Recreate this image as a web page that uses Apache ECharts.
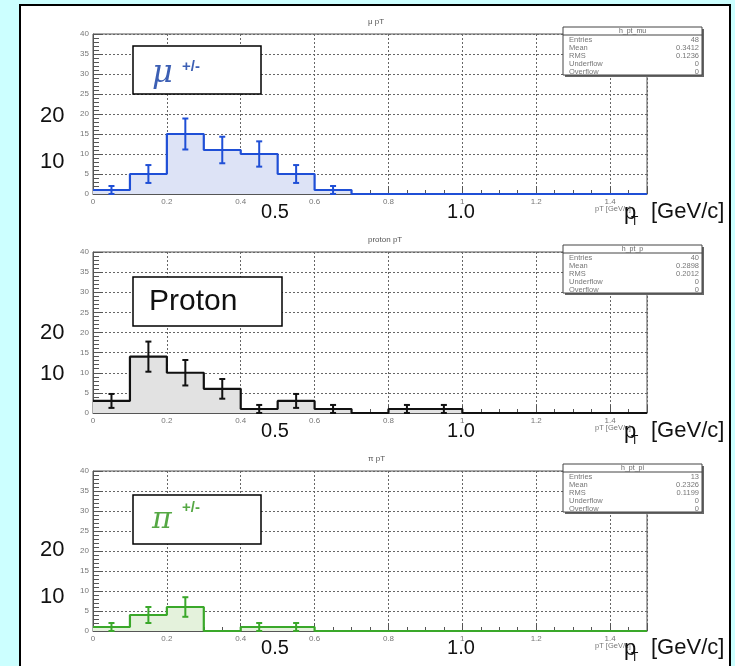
<!DOCTYPE html>
<html>
<head>
<meta charset="utf-8">
<script src="https://cdn.jsdelivr.net/npm/echarts@6/dist/echarts.min.js"></script>
<style>
  html, body { margin: 0; padding: 0; background: #ccffff; }
  #wrap { position: relative; width: 735px; height: 666px; overflow: hidden; background: #ccffff; }
  #panel { position: absolute; left: 19px; top: 4px; width: 708px; height: 700px; background: #fff; border: 2px solid #000; }
  #chart { position: absolute; left: 0; top: 0; width: 735px; height: 666px; }
</style>
</head>
<body>
<div id="wrap"><div id="panel"></div><div id="chart"></div></div>
<script>
// pT bins: 15 bins of 0.1 GeV/c from 0 to 1.5
const binCenters = [0.05, 0.15, 0.25, 0.35, 0.45, 0.55, 0.65, 0.75, 0.85, 0.95, 1.05, 1.15, 1.25, 1.35, 1.45];
const binWidth = 0.1;

// entries per bin
const muCounts     = [1, 5, 15, 11, 10, 5, 1, 0, 0, 0, 0, 0, 0, 0, 0];
const protonCounts = [3, 14, 10, 6, 1, 3, 1, 0, 1, 1, 0, 0, 0, 0, 0];
const pionCounts   = [1, 4, 6, 0, 1, 1, 0, 0, 0, 0, 0, 0, 0, 0, 0];

// statistics boxes
const statNames    = ['Entries', 'Mean', 'RMS', 'Underflow', 'Overflow'];
const muStats      = ['48', '0.3412', '0.1236', '0', '0'];
const protonStats  = ['40', '0.2898', '0.2012', '0', '0'];
const pionStats    = ['13', '0.2326', '0.1199', '0', '0'];
const histNames    = ['h_pt_mu', 'h_pt_p', 'h_pt_pi'];
const histTitles   = ['μ pT', 'proton pT', 'π pT'];

// axis ranges
const xMin = 0, xMax = 1.5, xStep = 0.2;
const yMin = 0, yMax = 40, yStep = 5;

// layout / style
const plotLeft = 93, plotWidth = 554;
const plotTops = [34, 252, 471];
const plotHeights = [160, 161, 160];
const lineColors = ['#1f4fd6', '#111111', '#3aa82a'];
const fillColors = ['#dde3f6', '#e2e2e2', '#e4f2dc'];
const countsList = [muCounts, protonCounts, pionCounts];
const statsList = [muStats, protonStats, pionStats];

const sansFont = '"Liberation Sans", Arial, Helvetica, sans-serif';

function stepData(counts) {
  const pts = binCenters.map((c, i) => [c - binWidth / 2, counts[i]]);
  pts.push([binCenters[binCenters.length - 1] + binWidth / 2, counts[counts.length - 1]]);
  return pts;
}

function errorData(counts) {
  return binCenters
    .map((c, i) => [c, counts[i], Math.sqrt(counts[i])])
    .filter(d => d[1] > 0);
}

function errorRenderer(color) {
  return function (params, api) {
    const x = api.value(0), y = api.value(1), e = api.value(2);
    const top = api.coord([x, y + e]);
    const bot = api.coord([x, y - e]);
    const cap = 3;
    const st = { stroke: color, lineWidth: 2 };
    return {
      type: 'group',
      children: [
        { type: 'line', shape: { x1: top[0], y1: top[1], x2: bot[0], y2: bot[1] }, style: st },
        { type: 'line', shape: { x1: top[0] - cap, y1: top[1], x2: top[0] + cap, y2: top[1] }, style: st },
        { type: 'line', shape: { x1: bot[0] - cap, y1: bot[1], x2: bot[0] + cap, y2: bot[1] }, style: st }
      ]
    };
  };
}

const grids = [], xAxes = [], yAxes = [], series = [];

for (let i = 0; i < 3; i++) {
  grids.push({
    left: plotLeft, top: plotTops[i], width: plotWidth, height: plotHeights[i],
    show: true, borderColor: '#555', borderWidth: 1, backgroundColor: 'transparent'
  });
  xAxes.push({
    gridIndex: i, type: 'value', min: xMin, max: xMax, interval: xStep,
    axisLine: { show: true, lineStyle: { color: '#555', width: 1 } },
    axisTick: { show: true, inside: true, length: 8, lineStyle: { color: '#555' } },
    minorTick: { show: true, splitNumber: 4, length: 4, lineStyle: { color: '#555' } },
    axisLabel: { fontSize: 8, color: '#777', margin: 4, fontFamily: sansFont, showMaxLabel: false },
    splitLine: { show: true, lineStyle: { type: [2, 2], color: '#666', width: 1 } }
  });
  yAxes.push({
    gridIndex: i, type: 'value', min: yMin, max: yMax, interval: yStep,
    axisLine: { show: true, lineStyle: { color: '#555', width: 1 } },
    axisTick: { show: true, inside: true, length: 10, lineStyle: { color: '#555' } },
    minorTick: { show: true, splitNumber: 5, length: 6, lineStyle: { color: '#555' } },
    axisLabel: { fontSize: 8, color: '#777', margin: 4, fontFamily: sansFont },
    splitLine: { show: true, lineStyle: { type: [2, 2], color: '#666', width: 1 } }
  });
  series.push({
    type: 'line', xAxisIndex: i, yAxisIndex: i,
    data: stepData(countsList[i]), step: 'end', symbol: 'none',
    lineStyle: { color: lineColors[i], width: 2.2 },
    areaStyle: { color: fillColors[i], opacity: 1, origin: 'start' },
    silent: true, animation: false, z: 3
  });
  series.push({
    type: 'custom', xAxisIndex: i, yAxisIndex: i,
    data: errorData(countsList[i]),
    renderItem: errorRenderer(lineColors[i]),
    silent: true, animation: false, z: 4
  });
}

// text helper for graphic overlays
function txt(text, x, y, size, opts) {
  opts = opts || {};
  return {
    type: 'text', x: x, y: y, z: 100,
    style: {
      text: text, fontSize: size, fontFamily: opts.family || sansFont,
      fontStyle: opts.italic ? 'italic' : 'normal',
      fontWeight: opts.bold ? 'bold' : 'normal',
      fill: opts.color || '#000',
      align: opts.align || 'left', textAlign: opts.align || 'left',
      verticalAlign: 'middle', textVerticalAlign: 'middle'
    }
  };
}

const graphics = [];

// histogram titles and stats boxes
for (let i = 0; i < 3; i++) {
  const top = plotTops[i];
  graphics.push(txt(histTitles[i], plotLeft + plotWidth / 2 - 2, top - 12, 8, { color: '#555' }));

  const bx = 563, by = top - 7, bw = 139, bh = 48;
  graphics.push({ type: 'rect', z: 90, shape: { x: bx + 2, y: by + 2, width: bw, height: bh }, style: { fill: '#666' } });
  graphics.push({ type: 'rect', z: 91, shape: { x: bx, y: by, width: bw, height: bh }, style: { fill: '#fff', stroke: '#444', lineWidth: 1 } });
  graphics.push({ type: 'line', z: 92, shape: { x1: bx, y1: by + 8, x2: bx + bw, y2: by + 8 }, style: { stroke: '#444', lineWidth: 1 } });
  graphics.push(txt(histNames[i], bx + bw / 2, by + 4, 7, { color: '#666', align: 'center' }));
  for (let k = 0; k < statNames.length; k++) {
    const ry = by + 12.5 + k * 8.2;
    graphics.push(txt(statNames[k], bx + 6, ry, 7.5, { color: '#777' }));
    graphics.push(txt(statsList[i][k], bx + bw - 3, ry, 7.5, { color: '#777', align: 'right' }));
  }
  // small axis title
  graphics.push(txt('pT [GeV/c]', 595, top + plotHeights[i] + 15, 7.5, { color: '#777' }));
}

// particle label boxes
const boxes = [
  { x: 133, y: 46, w: 128, h: 48 },
  { x: 133, y: 277, w: 149, h: 49 },
  { x: 133, y: 495, w: 128, h: 49 }
];
boxes.forEach(b => {
  graphics.push({ type: 'rect', z: 95, shape: { x: b.x, y: b.y, width: b.w, height: b.h }, style: { fill: '#fff', stroke: '#000', lineWidth: 1.5 } });
});
graphics.push(txt('μ', 152, 74, 32, { italic: true, color: '#3c5fb4', family: '"DejaVu Serif", "Liberation Serif", serif' }));
graphics.push(txt('+/-', 182, 67, 15, { bold: true, color: '#3c5fb4' }));
graphics.push(txt('Proton', 149, 302, 30, { color: '#111' }));
graphics.push(txt('π', 152, 520, 30, { italic: true, color: '#55a844', family: '"DejaVu Serif", "Liberation Serif", serif' }));
graphics.push(txt('+/-', 182, 508, 15, { bold: true, color: '#55a844' }));

// large axis annotations
const bigY20 = [116, 333, 550];
const bigY10 = [162, 374, 597];
const bigX = [212, 431, 648];
for (let i = 0; i < 3; i++) {
  graphics.push(txt('20', 40, bigY20[i], 22, { color: '#111' }));
  graphics.push(txt('10', 40, bigY10[i], 22, { color: '#111' }));
  graphics.push(txt('0.5', 275, bigX[i], 20, { color: '#111', align: 'center' }));
  graphics.push(txt('1.0', 461, bigX[i], 20, { color: '#111', align: 'center' }));
  graphics.push(txt('p', 624, bigX[i] + 1, 22, { color: '#111' }));
  graphics.push(txt('T', 631, bigX[i] + 10, 12, { color: '#111' }));
  graphics.push(txt('[GeV/c]', 651, bigX[i], 22, { color: '#111' }));
}

const chart = echarts.init(document.getElementById('chart'), null, { renderer: 'canvas' });
chart.setOption({
  backgroundColor: 'transparent',
  animation: false,
  grid: grids,
  xAxis: xAxes,
  yAxis: yAxes,
  series: series,
  graphic: { elements: graphics }
});
</script>
</body>
</html>
